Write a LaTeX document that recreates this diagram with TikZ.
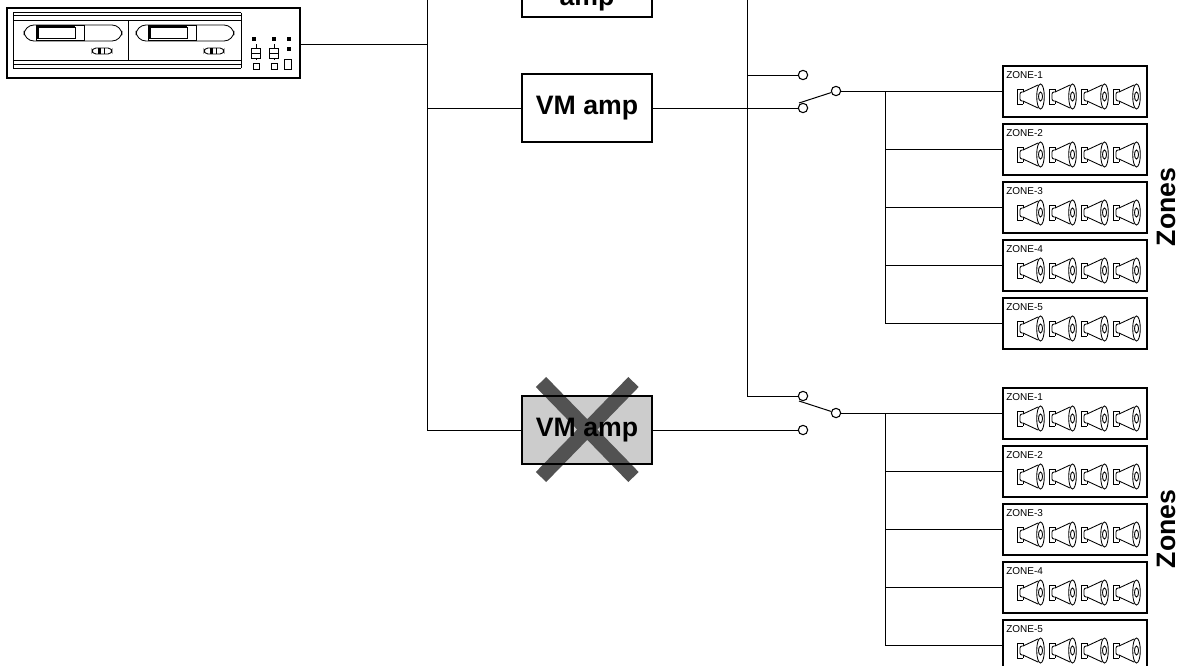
\documentclass[tikz,border=0pt]{standalone}
\usepackage{fontspec}
\setmainfont{Liberation Sans}
\tikzset{
  x=0.75pt,y=-0.75pt,
  wire/.style={line width=0.75pt,black},
  ampbox/.style={draw=black,line width=1.6pt,minimum width=97.5pt,minimum height=51pt,inner sep=0pt,font=\fontsize{20}{24}\selectfont\bfseries},
  contact/.style={circle,draw=black,line width=0.8pt,fill=white,minimum size=7pt,inner sep=0pt},
  zonebox/.style={draw=black,line width=1.4pt,fill=white,minimum width=108pt,minimum height=38.25pt,inner sep=0pt},
  zonelabel/.style={font=\fontsize{7.5}{9}\selectfont,inner sep=0pt,anchor=west},
  zonestitle/.style={font=\fontsize{20}{24}\selectfont\bfseries,rotate=90,inner sep=0pt},
  thin part/.style={line width=0.65pt,black},
  pics/horn/.style={code={
    \draw[thin part] (0,-7.5) -- (-6,-7.5) -- (-6,7.5) -- (0,7.5);
    \draw[thin part,rounded corners=1.5pt] (0,-4.5) -- (-3,-4.5) -- (-3,4.5) -- (0,4.5);
    \draw[thin part] (0,-7.5) -- (0,-4.5) (0,4.5) -- (0,7.5);
    \draw[thin part] (0,-4.5) -- (15,-11.5) (0,4.5) -- (15,11.5);
    \draw[thin part,fill=white] (17.5,0) ellipse [x radius=3.8,y radius=12.5];
    \draw[thin part] (17.5,0) ellipse [x radius=2,y radius=4.5];
  }},
  pics/deck/.style={code={
    \draw[thin part,rounded corners=7.5pt] (0,0) rectangle (98,16);
    \draw[thin part,fill=white] (12,0) rectangle (60,15);
    \draw[line width=1.3pt] (14,14) -- (14,1.5) -- (51,1.5);
    \draw[thin part] (14,13) rectangle (51,2);
    \draw[thin part,rounded corners=3pt] (68,23) rectangle (88,29);
    \draw[thin part] (74,23) -- (74,29) (80,23) -- (80,29);
    \draw[line width=1pt] (76,23) -- (76,29);
  }}
}
\begin{document}
\begin{tikzpicture}
\useasboundingbox (0,0) rectangle (1181,665);
\clip (0,0) rectangle (1181,665);
% source unit
\node[draw=black,line width=1.6pt,minimum width=219.75pt,minimum height=52.5pt,inner sep=0pt] (source) at (153.5,43) {};
\draw[thin part] (13,12.5) -- (241,12.5) (13,15) -- (241,15) (13,20) -- (241,20)
  (13,60) -- (241,60) (13,64) -- (241,64) (13,68) -- (241,68)
  (13,12.5) -- (13,68) (241,12.5) -- (241,68) (128,20) -- (128,60);
\pic at (24,25) {deck};
\pic at (136,25) {deck};
\foreach \p in {(254,39),(274,39),(289,39),(289,49)} \fill \p ++(-2,-2) rectangle ++(4,4);
\foreach \q in {256,274}{
  \draw[thin part] (\q,44) -- (\q,60);
  \draw[thin part,fill=white] (\q-4.5,48) rectangle (\q+4.5,53);
  \draw[thin part,fill=white] (\q-4.5,53) rectangle (\q+4.5,58);
  \draw[thin part] (\q-3,63.5) rectangle (\q+3,69);
}
\draw[thin part] (284,59) rectangle (291,69);
% amps
\node[ampbox] (amptop) at (587,-17) {};
\node[font=\fontsize{20}{24}\selectfont\bfseries,inner sep=0pt] (amptoptext) at (587,1) {amp};
\node[ampbox] (ampmid) at (587,108) {VM amp};
\node[draw=none,fill=black!20,minimum width=97.5pt,minimum height=51pt,inner sep=0pt] (ampfill) at (587,430) {};
\draw[line width=10.8pt,black!68,line cap=butt] (541,382) -- (633.5,477) (633.5,382) -- (541,477);
\node[ampbox] (ampbot) at (587,430) {VM amp};
% buses
\coordinate (busL) at (427,-5);
\coordinate (busR) at (747,-5);
\coordinate (srcjoin) at (427,44);
\draw[wire] (source.east |- 0,44) -- (srcjoin);
\draw[wire] (busL) -- (427,430) -- (ampbot.west);
\draw[wire] (427,108) -- (ampmid.west);
\draw[wire] (busR) -- (747,396);
% switches
\node[contact] (s1a) at (803,75) {};
\node[contact] (s1b) at (803,108) {};
\node[contact] (s1p) at (836,91) {};
\node[contact] (s2a) at (803,396) {};
\node[contact] (s2b) at (803,430) {};
\node[contact] (s2p) at (836,413) {};
\draw[wire] (747,75) -- (s1a);
\draw[wire] (ampmid.east) -- (s1b);
\draw[wire] (s1p) -- (799,103);
\draw[wire] (747,396) -- (s2a);
\draw[wire] (ampbot.east) -- (s2b);
\draw[wire] (s2p) -- (799,401);
% zones
\foreach \g/\y/\sw in {A/66/s1p,B/388/s2p}{
  \draw[wire] (\sw) -- (885,\y+25) -- (885,\y+257);
  \foreach \i in {1,...,5}{
    \pgfmathsetmacro{\top}{\y+(\i-1)*58}
    \node[zonebox] (z\g\i) at (1075,\top+25.5) {};
    \draw[wire] (885,\top+25) -- (z\g\i.west |- 0,\top+25);
    \node[zonelabel] (l\g\i) at (1006,\top+9) {ZONE-\i};
    \foreach \s in {0,32,64,96}
      \pic at (1023+\s,\top+30.5) {horn};
  }
}
\node[zonestitle] (titleA) at (1166,207) {Zones};
\node[zonestitle] (titleB) at (1166,529) {Zones};
\end{tikzpicture}
\end{document}
